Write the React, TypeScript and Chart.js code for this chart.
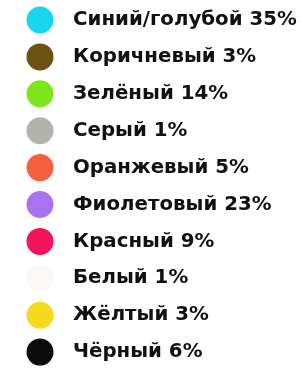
import { useEffect, useRef } from "react";
import { Chart, registerables } from "chart.js";

Chart.register(...registerables);

const colorNames = [
  "Синий/голубой",
  "Коричневый",
  "Зелёный",
  "Серый",
  "Оранжевый",
  "Фиолетовый",
  "Красный",
  "Белый",
  "Жёлтый",
  "Чёрный",
];
const shares = [35, 3, 14, 1, 5, 23, 9, 1, 3, 6];
const swatches = [
  "#16d6f0",
  "#6b5112",
  "#7ee51c",
  "#b2b2ad",
  "#f5603e",
  "#a972f2",
  "#f2155c",
  "#fbf8f6",
  "#f6d81c",
  "#0b0b0b",
];

export default function App() {
  const canvasRef = useRef<HTMLCanvasElement | null>(null);

  useEffect(() => {
    const canvas = canvasRef.current;
    if (!canvas) return;
    const chart = new Chart(canvas, {
      type: "scatter",
      data: {
        datasets: [
          {
            label: "Доля",
            data: colorNames.map((name) => ({ x: 0, y: name })) as any,
            pointBackgroundColor: swatches,
            pointBorderWidth: 0,
            pointRadius: 13.5,
            pointHoverRadius: 13.5,
            clip: false as any,
          },
        ],
      },
      options: {
        animation: false,
        responsive: true,
        maintainAspectRatio: false,
        events: [],
        layout: { padding: { left: 14, top: 20, bottom: 11.5, right: 0 } },
        plugins: { legend: { display: false }, tooltip: { enabled: false } },
        scales: {
          x: { type: "linear", display: false, min: -1, max: 1 },
          y: {
            type: "category",
            labels: colorNames,
            position: "right",
            offset: false,
            grid: { display: false, drawTicks: false },
            border: { display: false },
            afterFit: (s: any) => {
              s.width = 302 - 66;
            },
            ticks: {
              autoSkip: false,
              padding: 7,
              color: "#111111",
              font: { family: "DejaVu Sans", weight: "bold", size: 19.8, lineHeight: 1 },
              callback: (_v: any, i: number) => `${colorNames[i]} ${shares[i]}%`,
            },
          },
        },
      },
    });
    return () => chart.destroy();
  }, []);

  return (
    <div style={{ position: "fixed", left: 0, top: 0, width: 302, height: 369, background: "#fff" }}>
      <canvas ref={canvasRef} />
    </div>
  );
}
